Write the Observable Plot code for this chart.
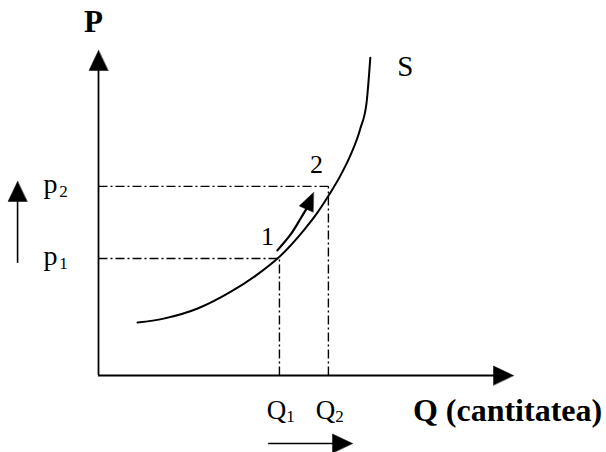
<!DOCTYPE html>
<html><head><meta charset="utf-8">
<script src="https://cdn.jsdelivr.net/npm/d3@7"></script>
<script src="https://cdn.jsdelivr.net/npm/@observablehq/plot@0.6"></script>
<style>html,body{margin:0;padding:0;background:#fff}</style>
</head><body><div id="chart"></div>
<script>
// Supply curve S (quantity, price) in abstract units
const supplyQ = [0.94, 1.57, 2.39, 3.18, 3.83, 4.34, 4.94, 5.28, 5.59, 5.83, 6.07, 6.31, 6.46, 6.55];
const supplyP = [1.63, 1.75, 2.06, 2.57, 3.11, 3.63, 4.46, 5.02, 5.63, 6.15, 6.77, 7.60, 8.40, 9.78];
// Equilibrium points 1 and 2
const pointNames = ["1", "2"];
const pointQ = [4.36, 5.54];
const pointP = [3.60, 5.82];
// Tick labels (letter + subscript)
const priceLetters = ["p", "p"];
const quantityLetters = ["Q", "Q"];
const subscripts = ["1", "2"];
// Axis titles
const yTitle = "P";
const xTitle = "Q (cantitatea)";
const curveName = "S";
// Axis extents
const axisMaxQ = 10, axisMaxP = 10;
// Movement arrow along the curve (1 -> 2)
const moveQ = [4.31, 4.63, 4.87, 5.02];
const moveP = [3.85, 4.34, 4.83, 5.15];
const moveTip = {q: 5.18, p: 5.63, angle: 24};
// Side arrows: price rises, quantity rises
const priceArrow = {q: -1.95, from: 3.45, to: 5.97};
const qtyArrow = {p: -2.09, from: 4.10, to: 6.12};

const curve = supplyQ.map((q, i) => ({q, p: supplyP[i]}));
const pts = pointNames.map((n, i) => ({n, q: pointQ[i], p: pointP[i], letterP: priceLetters[i], letterQ: quantityLetters[i], sub: subscripts[i]}));
const move = moveQ.map((q, i) => ({q, p: moveP[i]}));

const tri = {draw(ctx, l, r) { ctx.moveTo(0, -l); ctx.lineTo(-r, 0); ctx.lineTo(r, 0); ctx.closePath(); }};
const bigHeads = [
  {q: 0, p: axisMaxP, a: 0},
  {q: axisMaxQ, p: 0, a: 90},
  {q: priceArrow.q, p: priceArrow.to, a: 0},
  {q: qtyArrow.to, p: qtyArrow.p, a: 90}
];

const font = "'Liberation Serif', 'Times New Roman', serif";
const dash = "9,3,2,3";

const chart = Plot.plot({
  width: 606, height: 452,
  marginLeft: 98, marginRight: 93, marginTop: 50, marginBottom: 77,
  x: {domain: [0, axisMaxQ], axis: null},
  y: {domain: [0, axisMaxP], axis: null},
  style: {fontFamily: font, background: "#fff", color: "#000"},
  marks: [
    // dash-dot guide lines
    Plot.link(pts, {x1: 0, y1: "p", x2: "q", y2: "p", stroke: "#000", strokeWidth: 1.4, strokeDasharray: dash}),
    Plot.link(pts, {x1: "q", y1: 0, x2: "q", y2: "p", stroke: "#000", strokeWidth: 1.4, strokeDasharray: dash}),
    // axes
    Plot.ruleX([0], {y1: 0, y2: axisMaxP - 0.4, stroke: "#000", strokeWidth: 1.8}),
    Plot.ruleY([0], {x1: 0, x2: axisMaxQ - 0.4, stroke: "#000", strokeWidth: 1.8}),
    // side arrows
    Plot.ruleX([priceArrow.q], {y1: priceArrow.from, y2: priceArrow.to - 0.4, stroke: "#000", strokeWidth: 1.6}),
    Plot.ruleY([qtyArrow.p], {x1: qtyArrow.from, x2: qtyArrow.to - 0.3, stroke: "#000", strokeWidth: 1.6}),
    Plot.vector(bigHeads, {x: "q", y: "p", rotate: "a", length: 20, r: 9.5, anchor: "end", shape: tri, fill: "#000", stroke: "#000", strokeWidth: 0.5}),
    // supply curve
    Plot.line(curve, {x: "q", y: "p", curve: "monotone-x", stroke: "#000", strokeWidth: 2}),
    // movement arrow
    Plot.line(move, {x: "q", y: "p", curve: "catmull-rom", stroke: "#000", strokeWidth: 2.2}),
    Plot.vector([moveTip], {x: "q", y: "p", rotate: "angle", length: 18, r: 7.5, anchor: "end", shape: tri, fill: "#000", stroke: "#000", strokeWidth: 0.5}),
    // point labels
    Plot.text(pts, {x: "q", y: "p", text: "n", dx: -12, dy: -22, fontSize: 26}),
    // price tick labels
    Plot.text(pts, {x: 0, y: "p", text: "letterP", dx: -48, dy: -2, fontSize: 28}),
    Plot.text(pts, {x: 0, y: "p", text: "sub", dx: -35, dy: 5, fontSize: 17}),
    // quantity tick labels
    Plot.text(pts, {x: "q", y: 0, text: "letterQ", dx: -3, dy: 35, fontSize: 27}),
    Plot.text(pts, {x: "q", y: 0, text: "sub", dx: 11, dy: 41, fontSize: 17}),
    // titles
    Plot.text([yTitle], {x: 0, y: axisMaxP, text: d => d, dx: -5, dy: -28, fontSize: 31, fontWeight: "bold"}),
    Plot.text([xTitle], {x: axisMaxQ, y: 0, text: d => d, dx: -6, dy: 35, fontSize: 32, fontWeight: "bold"}),
    Plot.text([curveName], {x: supplyQ[supplyQ.length - 1], y: supplyP[supplyP.length - 1], text: d => d, dx: 35, dy: 9, fontSize: 29})
  ]
});
document.getElementById("chart").appendChild(chart);
</script>
</body></html>
